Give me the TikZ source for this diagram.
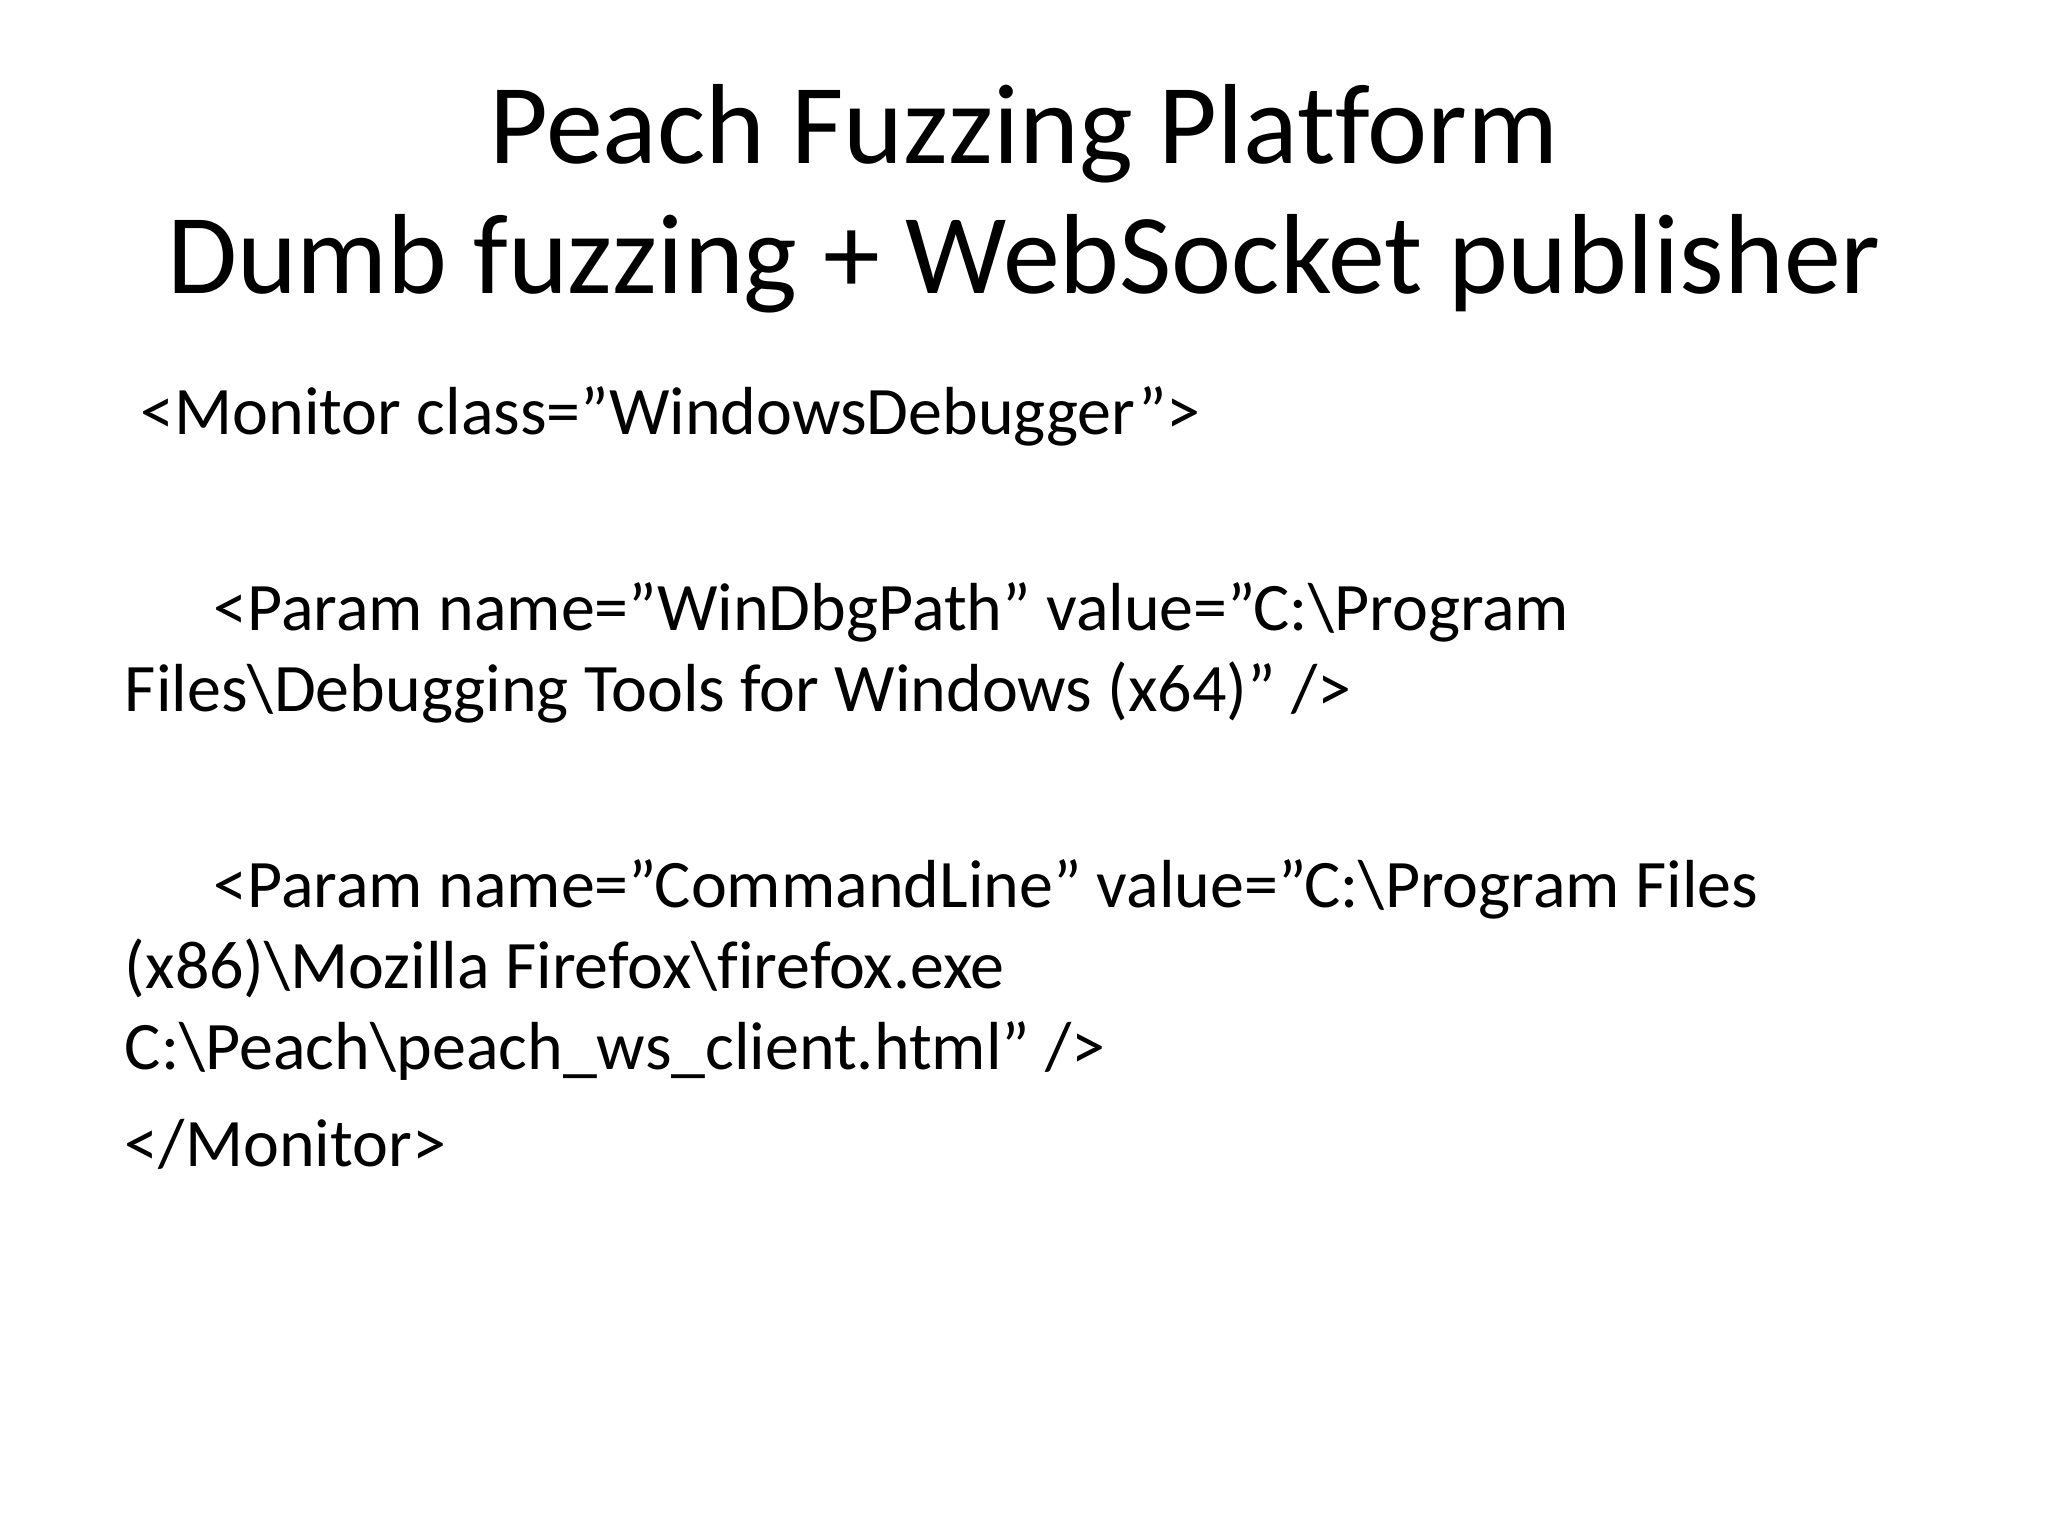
\documentclass[tikz,border=0pt]{standalone}
\usepackage{fontspec}
\setmainfont{Carlito}[Ligatures={NoCommon}]
\newcommand\qq{\symbol{34}}
\begin{document}
\begin{tikzpicture}[x=0.01cm,y=-0.01cm,
  ttl/.style={anchor=base,font=\fontsize{24.8}{30}\selectfont,inner sep=0},
  body/.style={anchor=base west,font=\fontsize{14.8}{19}\selectfont,inner sep=0}]
\useasboundingbox (0,0) rectangle (1568,1176);
\node[ttl] (t1) at (784,125) {Peach Fuzzing Platform};
\node[ttl] (t2) at (784,225) {Dumb fuzzing + WebSocket publisher};
\node[body] (l1) at (107,333) {<Monitor class=\qq WindowsDebugger\qq>};
\node[body] (l2) at (163,483) {<Param name=\qq WinDbgPath\qq{} value=\qq C:\textbackslash Program};
\node[body] (l3) at (95,545) {Files\textbackslash Debugging Tools for Windows (x64)\qq{} />};
\node[body] (l4) at (163,695) {<Param name=\qq CommandLine\qq{} value=\qq C:\textbackslash Program Files};
\node[body] (l5) at (95,757) {(x86)\textbackslash Mozilla Firefox\textbackslash firefox.exe};
\node[body] (l6) at (95,819) {C:\textbackslash Peach\textbackslash peach\_ws\_client.html\qq{} />};
\node[body] (l7) at (95,893) {</Monitor>};
\end{tikzpicture}
\end{document}
